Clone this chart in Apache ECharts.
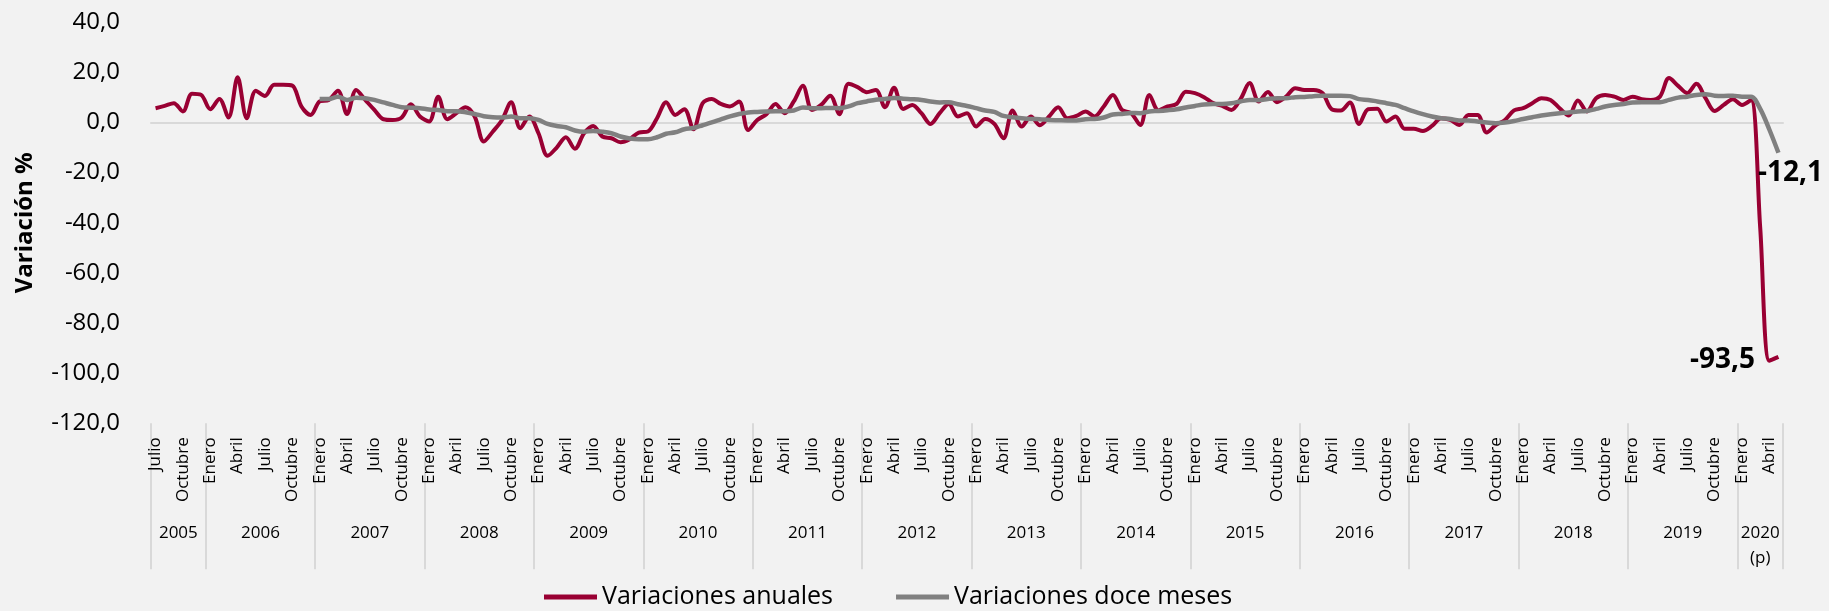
<!DOCTYPE html>
<html>
<head>
<meta charset="utf-8">
<script src="https://cdn.jsdelivr.net/npm/echarts@6/dist/echarts.min.js"></script>
<style>
html,body{margin:0;padding:0;background:#F2F2F2;}
#c{width:1829px;height:611px;}
</style>
</head>
<body>
<div id="c"></div>
<script>
// ---- data ----
const firstYear = 2005, firstMonth = 7, monthCount = 179; // Julio 2005 .. Mayo 2020
const monthNames = ['Enero','Febrero','Marzo','Abril','Mayo','Junio','Julio','Agosto','Septiembre','Octubre','Noviembre','Diciembre'];
const labeledMonths = ['Enero','Abril','Julio','Octubre'];
const yearLabels = ['2005','2006','2007','2008','2009','2010','2011','2012','2013','2014','2015','2016','2017','2018','2019','2020\n(p)'];
const yTicks = [-120,-100,-80,-60,-40,-20,0,20,40];

const anuales = [
 5.7, 6.6, 7.7, 4.4, 11.5, 11.0,
 5.3, 9.4, 2.0, 18.0, 1.7, 12.7, 10.6, 15.0, 15.0, 14.7, 6.4, 3.0,
 8.4, 9.0, 12.7, 3.4, 13.0, 9.0, 5.0, 1.3, 1.0, 2.0, 7.3, 2.4,
 0.4, 10.3, 1.3, 3.7, 6.1, 2.4, -7.6, -3.6, 1.0, 8.1, -2.3, 2.4,
 -4.3, -13.3, -10.0, -5.9, -10.5, -4.3, -1.4, -5.6, -6.3, -7.9, -6.7, -4.0,
 -3.6, 1.7, 8.1, 3.0, 5.3, -2.7, 7.7, 9.4, 7.4, 6.4, 8.4, -3.0,
 1.0, 3.3, 7.4, 3.7, 8.4, 14.6, 5.0, 7.0, 10.7, 3.3, 15.4, 14.1,
 12.1, 13.0, 6.1, 13.9, 5.4, 7.0, 3.7, -0.6, 3.7, 7.4, 2.4, 3.7,
 -1.6, 1.4, -0.6, -6.3, 4.8, -1.6, 2.4, -1.1, 2.4, 6.1, 1.7, 2.6,
 4.4, 2.4, 6.4, 11.0, 5.0, 3.7, -1.0, 11.0, 4.8, 6.4, 7.4, 12.3,
 11.7, 10.1, 7.7, 6.6, 5.0, 9.3, 15.7, 8.4, 12.2, 8.1, 10.3, 13.7,
 13.0, 13.0, 11.7, 5.3, 4.8, 8.0, -0.6, 5.3, 5.5, 0.4, 2.4, -2.5,
 -2.5, -3.4, -1.4, 1.7, 1.0, -1.0, 3.0, 3.0, -4.0, -1.0, 1.0, 4.8,
 5.7, 7.7, 9.7, 9.0, 5.7, 2.8, 8.8, 4.4, 9.7, 11.0, 10.3, 9.0,
 10.3, 9.3, 9.0, 10.3, 17.7, 14.6, 11.7, 15.4, 9.7, 4.6, 7.0, 9.3,
 7.0, 9.0, -42.0, -95.0, -93.5
];

const doceMeses = [
 null, null, null, null, null, null,
 null, null, null, null, null, null, null, null, null, null, null, null,
 9.4, 9.4, 10.3, 9.0, 9.9, 9.7, 9.0, 8.0, 7.0, 6.1, 5.9, 5.7,
 5.2, 5.0, 4.5, 4.5, 4.1, 3.4, 2.5, 2.1, 2.0, 2.4, 1.7, 1.7,
 1.0, -0.6, -1.4, -1.9, -3.2, -3.7, -3.4, -3.7, -4.3, -5.6, -6.4, -6.7,
 -6.7, -5.9, -4.5, -3.9, -2.7, -2.2, -1.1, 0.0, 1.2, 2.4, 3.4, 4.0,
 4.2, 4.4, 4.5, 4.5, 4.8, 6.0, 5.7, 5.7, 5.8, 5.7, 6.4, 7.7,
 8.4, 9.1, 9.4, 9.8, 9.5, 9.3, 9.0, 8.4, 8.0, 8.1, 7.3, 6.6,
 5.7, 4.8, 4.2, 2.6, 2.1, 1.7, 1.4, 1.3, 1.0, 0.9, 0.8, 0.8,
 1.3, 1.4, 2.0, 3.2, 3.4, 3.8, 3.7, 4.4, 4.6, 4.9, 5.3, 6.0,
 6.6, 7.2, 7.4, 7.4, 7.7, 8.4, 9.0, 8.9, 9.4, 9.7, 9.7, 10.1,
 10.2, 10.5, 10.7, 10.7, 10.7, 10.5, 9.3, 9.0, 8.4, 7.7, 7.0, 5.7,
 4.4, 3.3, 2.4, 1.7, 1.4, 0.8, 0.8, 0.4, 0.0, -0.3, 0.0, 0.6,
 1.4, 2.1, 2.8, 3.3, 3.7, 4.0, 4.4, 4.6, 5.4, 6.4, 7.0, 7.4,
 8.0, 8.1, 8.1, 8.1, 9.0, 9.9, 10.3, 11.0, 11.3, 10.7, 10.6, 10.7,
 10.3, 10.3, 5.4, -2.8, -12.1
];

// ---- derived categories ----
const categories = [];
const catMonth = [];
const yearCounts = [];
for (let i = 0; i < monthCount; i++) {
  const t = firstMonth - 1 + i;
  const y = firstYear + Math.floor(t / 12);
  const m = t % 12;
  categories.push(y + '-' + String(m + 1).padStart(2, '0'));
  catMonth.push(m);
  const yi = y - firstYear;
  yearCounts[yi] = (yearCounts[yi] || 0) + 1;
}
const yearCenters = {};
const yearCenterValues = [];
const yearBounds = [0];
let acc = 0;
yearCounts.forEach((c, k) => {
  const mid = acc + c / 2;
  yearCenters[mid.toFixed(1)] = yearLabels[k];
  yearCenterValues.push(mid);
  acc += c;
  yearBounds.push(acc);
});

const fmt = v => v.toFixed(1).replace('.', ',');
const FONT = '"Open Sans", "Noto Sans", sans-serif';
const RED = '#990033', GRAY = '#808080', LIGHT = '#D9D9D9';

const chart = echarts.init(document.getElementById('c'), null, { renderer: 'canvas' });
chart.setOption({
  backgroundColor: '#F2F2F2',
  animation: false,
  textStyle: { fontFamily: FONT },
  grid: { left: 151, right: 46, top: 22.2, bottom: 187.7, containLabel: false },
  legend: {
    data: ['Variaciones anuales', 'Variaciones doce meses'],
    left: 544, top: 583, padding: 0,
    icon: 'rect', itemWidth: 53, itemHeight: 5, itemGap: 63,
    textStyle: { fontSize: 25, color: '#000', fontFamily: FONT, lineHeight: 28 }
  },
  xAxis: [
    {
      type: 'category', data: categories, position: 'bottom', boundaryGap: true,
      axisLine: { show: false, onZero: false },
      axisTick: { show: false },
      axisLabel: {
        show: true, rotate: 90, margin: 14, fontSize: 17, color: '#000', fontFamily: FONT,
        interval: (idx) => labeledMonths.indexOf(monthNames[catMonth[idx]]) >= 0,
        formatter: (val, idx) => monthNames[catMonth[idx]]
      },
      splitLine: { show: false }
    },
    {
      type: 'value', min: 0, max: monthCount, position: 'bottom',
      axisLine: { show: false, onZero: false }, splitLine: { show: false },
      axisTick: {
        show: true, length: 146, inside: false, customValues: yearBounds,
        lineStyle: { color: LIGHT, width: 2 }
      },
      axisLabel: {
        show: true, margin: 97.5, fontSize: 17, lineHeight: 25, color: '#000', fontFamily: FONT,
        customValues: yearCenterValues, showMinLabel: true, showMaxLabel: true,
        formatter: (v) => yearCenters[v.toFixed(1)] || ''
      }
    },
    {
      type: 'category', data: categories, position: 'bottom', boundaryGap: true,
      axisLine: { show: true, onZero: true, lineStyle: { color: LIGHT, width: 2 } },
      axisTick: { show: false }, axisLabel: { show: false }, splitLine: { show: false }
    }
  ],
  yAxis: {
    type: 'value', min: yTicks[0], max: yTicks[yTicks.length - 1], interval: 20,
    name: 'Variación %', nameLocation: 'middle', nameGap: 114, nameRotate: 90,
    nameTextStyle: { fontSize: 24, fontWeight: 'bold', color: '#000', fontFamily: FONT },
    axisLine: { show: false }, axisTick: { show: false }, splitLine: { show: false },
    axisLabel: { margin: 31, fontSize: 24, color: '#000', fontFamily: FONT, formatter: fmt }
  },
  series: [
    {
      name: 'Variaciones anuales', type: 'line', xAxisIndex: 0, data: anuales,
      smooth: 0.33, showSymbol: false, color: RED,
      lineStyle: { color: RED, width: 4 }, itemStyle: { color: RED },
      markPoint: {
        symbol: 'circle', symbolSize: 1, itemStyle: { color: 'rgba(0,0,0,0)' },
        data: [{ coord: [categories[monthCount - 1], anuales[monthCount - 1]], value: anuales[monthCount - 1] }],
        label: { show: true, position: 'inside', offset: [-56, 3], formatter: p => fmt(p.value),
                 fontSize: 28, fontWeight: 'bold', color: '#000', fontFamily: FONT }
      }
    },
    {
      name: 'Variaciones doce meses', type: 'line', xAxisIndex: 0, data: doceMeses,
      smooth: 0.33, showSymbol: false, color: GRAY,
      lineStyle: { color: GRAY, width: 4.5 }, itemStyle: { color: GRAY },
      markPoint: {
        symbol: 'circle', symbolSize: 1, itemStyle: { color: 'rgba(0,0,0,0)' },
        data: [{ coord: [categories[monthCount - 1], doceMeses[monthCount - 1]], value: doceMeses[monthCount - 1] }],
        label: { show: true, position: 'inside', offset: [12, 20], formatter: p => fmt(p.value),
                 fontSize: 28, fontWeight: 'bold', color: '#000', fontFamily: FONT }
      }
    }
  ]
});
</script>
</body>
</html>
